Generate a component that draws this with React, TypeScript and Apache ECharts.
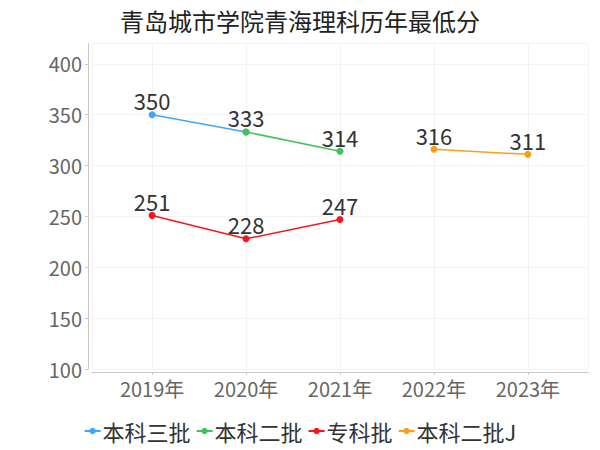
import React, { useEffect, useRef } from "react";
import * as echarts from "echarts";

const years = [2019, 2020, 2021, 2022, 2023];
const seriesNames = ["本科三批", "本科二批", "专科批", "本科二批J"];
const benke3 = [350, 333, null, null, null];
const benke2 = [null, 333, 314, null, null];
const zhuanke = [251, 228, 247, null, null];
const benke2J = [null, null, null, 316, 311];
const colors = ["#3fa6f8", "#3fc259", "#f5161f", "#fb9f17"];
const yTicks = { min: 100, max: 420, interval: 50 };
const titleText = "青岛城市学院青海理科历年最低分";

const FONT = "'Noto Sans CJK SC', 'Noto Sans', sans-serif";

function toPairs(vals: (number | null)[]) {
  return years.map((y, i) => [y, vals[i]]);
}

export default function App() {
  const ref = useRef<HTMLDivElement>(null);
  useEffect(() => {
    if (!ref.current) return;
    const chart = echarts.init(ref.current, undefined, { renderer: "svg" });
    const all = [benke3, benke2, zhuanke, benke2J];
    const series = all.map((vals, idx) => ({
      name: seriesNames[idx],
      type: "line",
      data: toPairs(vals).map((p, i) => {
        // the shared 2020 point of 本科三批 is labelled by 本科二批
        if (idx === 0 && i === 1) return { value: p, label: { show: false } };
        return p;
      }),
      connectNulls: false,
      symbol: "circle",
      symbolSize: 7,
      lineStyle: { width: 1.5, color: colors[idx] },
      itemStyle: { color: colors[idx] },
      label: {
        show: true,
        position: "top",
        distance: 0,
        fontSize: 22,
        color: "#333",
        fontFamily: FONT,
        formatter: (p: any) => String(p.value[1]),
      },
      z: idx === 0 ? 1 : 2,
    }));
    chart.setOption({
      animation: false,
      color: colors,
      title: {
        text: titleText,
        left: "center",
        top: 3,
        textStyle: { fontSize: 24, fontWeight: "normal", color: "#222", fontFamily: FONT },
      },
      legend: {
        bottom: 3,
        left: "center",
        itemGap: 5,
        itemWidth: 16,
        itemHeight: 8,
        textStyle: { fontSize: 22, color: "#333", fontFamily: FONT, padding: [0, 0, 0, -3] },
        data: seriesNames,
      },
      grid: { left: 92, right: 12, top: 43.5, bottom: 81, containLabel: false },
      xAxis: {
        type: "value",
        min: 2018.36,
        max: 2023.64,
        minInterval: 1,
        maxInterval: 1,
        offset: 3,
        axisLine: { show: true, lineStyle: { color: "#c8c8c8" } },
        axisTick: { show: true, length: 3, lineStyle: { color: "#c8c8c8" } },
        splitLine: { show: true, lineStyle: { color: "#f3f3f3" } },
        axisLabel: {
          fontSize: 20,
          color: "#666",
          fontFamily: FONT,
          margin: 6,
          showMinLabel: false,
          showMaxLabel: false,
          formatter: (v: number) => (Number.isInteger(v) ? `${v}年` : ""),
        },
      },
      yAxis: {
        type: "value",
        min: yTicks.min,
        max: yTicks.max,
        interval: yTicks.interval,
        offset: 4,
        axisLine: { show: true, lineStyle: { color: "#c8c8c8" } },
        axisTick: { show: true, length: 3, lineStyle: { color: "#c8c8c8" } },
        splitLine: { show: true, lineStyle: { color: "#f3f3f3" } },
        axisLabel: {
          fontSize: 20,
          color: "#666",
          fontFamily: FONT,
          margin: 6,
          showMaxLabel: false,
        },
      },
      series,
    });
    return () => chart.dispose();
  }, []);
  return <div ref={ref} style={{ width: 600, height: 450, position: "absolute", left: 0, top: 0 }} />;
}
